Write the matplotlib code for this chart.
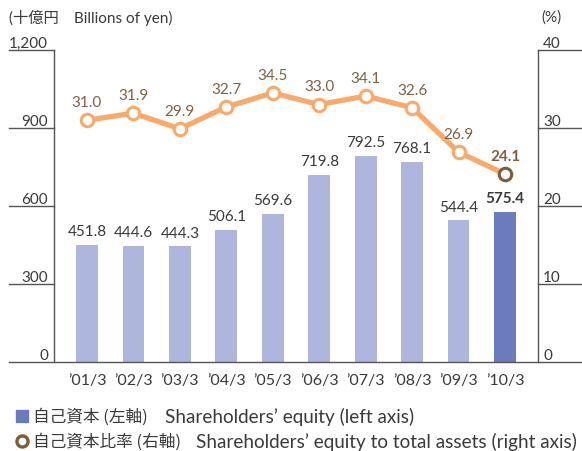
import matplotlib
matplotlib.use("Agg")
import matplotlib.pyplot as plt
from matplotlib.lines import Line2D
import matplotlib.transforms as mtransforms

categories = ["\u201901/3", "\u201902/3", "\u201903/3", "\u201904/3", "\u201905/3",
              "\u201906/3", "\u201907/3", "\u201908/3", "\u201909/3", "\u201910/3"]
equity = [451.8, 444.6, 444.3, 506.1, 569.6, 719.8, 792.5, 768.1, 544.4, 575.4]
ratio = [31.0, 31.9, 29.9, 32.7, 34.5, 33.0, 34.1, 32.6, 26.9, 24.1]
left_ticks = [0, 300, 600, 900, 1200]
left_tick_labels = ["0", "300", "600", "900", "1,200"]
right_ticks = [0, 10, 20, 30, 40]

plt.rcParams['font.family'] = ['Lato', 'Noto Sans CJK JP', 'DejaVu Sans']

BAR = "#aeb6dd"
BAR_LAST = "#6b7bbd"
LINE = "#f9aa6b"
BROWN = "#7d5c3a"
LBL_BROWN = "#7d6146"
TXT = "#3a3a3a"
AX = "#555555"

W, H = 582, 452
fig = plt.figure(figsize=(W/100, H/100), dpi=100)
L, R, B, T = 54, 538, 363, 51
ax = fig.add_axes([L/W, 1-B/H, (R-L)/W, (B-T)/H])
ax2 = ax.twinx()

x = list(range(len(categories)))
colors = [BAR]*(len(x)-1) + [BAR_LAST]
ax.bar(x, equity, width=0.47, color=colors, zorder=2)
ax.set_ylim(0, 1200)
ax.set_xlim(-0.71, len(x)-1+0.71)
ax2.set_ylim(0, 40)

for a in (ax, ax2):
    a.set_yticks([])
    for s in a.spines.values():
        s.set_visible(False)
ax.set_xticks(x)
ax.set_xticklabels(categories, fontsize=11.5, color=TXT)
ax.tick_params(axis='x', length=0, pad=8)

# axis lines
ax.plot([0, 0], [0, 1], transform=ax.transAxes, color=AX, lw=1, clip_on=False)
ax.plot([1, 1], [0, 1], transform=ax.transAxes, color=AX, lw=1, clip_on=False)
ax.plot([-45/484, 1+44/484], [0, 0], transform=ax.transAxes, color=AX, lw=1, clip_on=False)

tl = mtransforms.blended_transform_factory(ax.transAxes, ax.transData)
for v, s in zip(left_ticks, left_tick_labels):
    if v > 0:
        ax.plot([-45/484, 0], [v, v], transform=tl, color=AX, lw=1, clip_on=False)
    ax.text(-6/484, v, s, transform=tl, ha='right', va='bottom', fontsize=11, color=TXT)
tr = mtransforms.blended_transform_factory(ax2.transAxes, ax2.transData)
for v in right_ticks:
    if v > 0:
        ax2.plot([1, 1+44/484], [v, v], transform=tr, color=AX, lw=1, clip_on=False)
    ax2.text(1+5/484, v, str(v), transform=tr, ha='left', va='bottom', fontsize=11, color=TXT)

# bar labels
for i, v in enumerate(equity):
    last = i == len(equity)-1
    ax.annotate(f"{v:.1f}", (i, v), xytext=(0, 5), textcoords='offset points',
                ha='center', va='bottom', fontsize=11, color=TXT,
                fontweight='bold' if last else 'normal')

# line
ax2.plot(x, ratio, color=LINE, lw=3.8, zorder=3, solid_capstyle='round')
ax2.plot(x[:-1], ratio[:-1], 'o', ms=9, mfc='white', mec=LINE, mew=2.2, zorder=4)
ax2.plot(x[-1:], ratio[-1:], 'o', ms=9, mfc='white', mec=BROWN, mew=2.2, zorder=4)
for i, v in enumerate(ratio):
    last = i == len(ratio)-1
    ax2.annotate(f"{v:.1f}", (i, v), xytext=(0, 8), textcoords='offset points',
                 ha='center', va='bottom', fontsize=11, color=LBL_BROWN,
                 fontweight='bold' if last else 'normal')

# header texts
fig.text(9/W, 1-18/H, "(十億円\u3000Billions of yen)", ha='left', va='center', fontsize=11, color=TXT)
fig.text(541/W, 1-18/H, "(%)", ha='left', va='center', fontsize=11, color=TXT)

# legend
y1, y2 = 1-417/H, 1-442/H
fig.add_artist(Line2D([21.5/W], [y1], marker='s', ms=8.3, color=BAR_LAST, lw=0))
fig.text(33/W, y1, "自己資本 (左軸)", ha='left', va='center', fontsize=12, color=TXT,
         family=['Noto Sans CJK JP'])
fig.text(165/W, y1, "Shareholders\u2019 equity (left axis)", ha='left', va='center',
         fontsize=13.6, color=TXT)
fig.add_artist(Line2D([21.5/W], [y2], marker='o', ms=8, mfc='white', mec=BROWN, mew=2.4, lw=0))
fig.text(33/W, y2, "自己資本比率 (右軸)", ha='left', va='center', fontsize=12, color=TXT,
         family=['Noto Sans CJK JP'])
fig.text(196/W, y2, "Shareholders\u2019 equity to total assets (right axis)", ha='left', va='center',
         fontsize=13.6, color=TXT)

fig.savefig("out.png", dpi=100)
